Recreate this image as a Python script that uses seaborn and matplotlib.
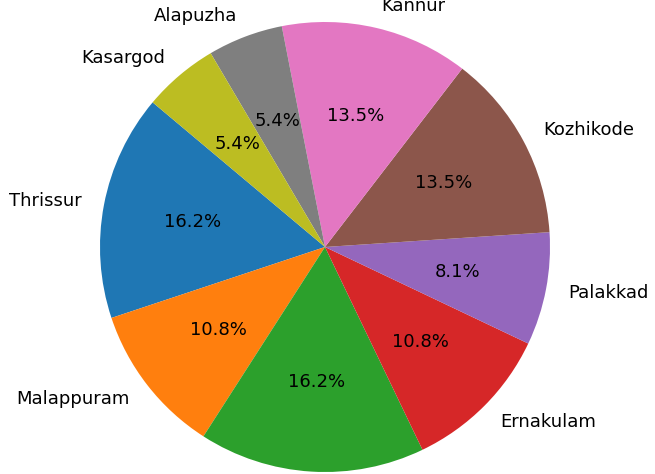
import matplotlib
matplotlib.use('Agg')
import matplotlib.pyplot as plt
import seaborn as sns

districts = ['Thrissur', 'Malappuram', 'Kottayam', 'Ernakulam', 'Palakkad',
             'Kozhikode', 'Kannur', 'Alapuzha', 'Kasargod']
counts = [6, 4, 6, 4, 3, 5, 5, 2, 2]

colors = sns.color_palette('tab10', len(districts))

fig = plt.figure(figsize=(6.55, 4.74), dpi=100)
ax = fig.add_axes([0, 0, 1, 1])

ax.pie(counts, labels=districts, colors=colors, autopct='%1.1f%%',
       startangle=140, textprops={'fontsize': 13})

# the reference is a crop: pie radius ~225 px, centre at (325, 247)
r = 225.0
ax.set_xlim(-325 / r, 330 / r)
ax.set_ylim(-227 / r, 247 / r)
ax.set_aspect('auto')

fig.savefig('out.png', dpi=100)
